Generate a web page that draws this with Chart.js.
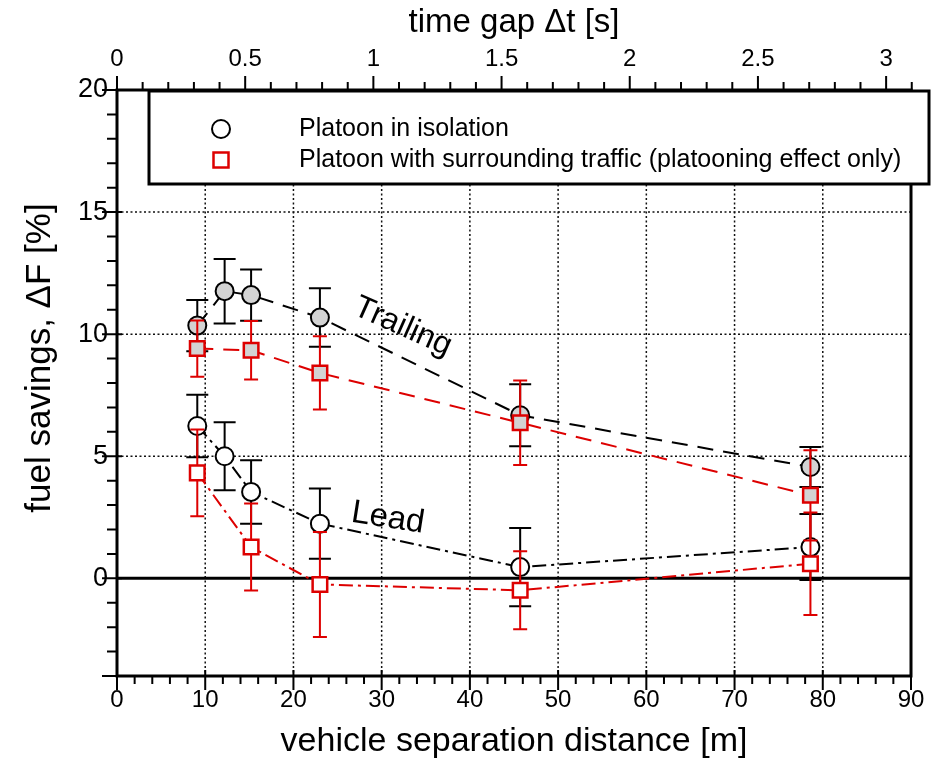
<!DOCTYPE html>
<html>
<head>
<meta charset="utf-8">
<script src="https://cdn.jsdelivr.net/npm/chart.js@4.4.0/dist/chart.umd.min.js"></script>
<style>
  body { margin: 0; background: #fff; }
  #wrap { width: 938px; height: 759px; }
</style>
</head>
<body>
<div id="wrap"><canvas id="fuel-chart"></canvas></div>
<script>
// platoon in isolation, measured at every separation distance
const distance = [9.1, 12.2, 15.2, 23.0, 45.7, 78.6];
const isoTrailing = [10.35, 11.76, 11.6, 10.68, 6.68, 4.56];
const isoTrailingErr = [1.05, 1.32, 1.05, 1.2, 1.27, 0.82];
const isoLead = [6.24, 5.0, 3.54, 2.24, 0.46, 1.28];
const isoLeadErr = [1.28, 1.39, 1.3, 1.44, 1.6, 1.35];

// platoon with surrounding traffic (no 12.2 m run)
const trafficDistance = [9.1, 15.2, 23.0, 45.7, 78.6];
const trafficTrailing = [9.41, 9.34, 8.41, 6.37, 3.4];
const trafficTrailingErr = [1.15, 1.2, 1.5, 1.73, 1.85];
const trafficLead = [4.32, 1.28, -0.25, -0.49, 0.6];
const trafficLeadErr = [1.78, 1.78, 2.15, 1.6, 2.1];

const distanceTicks = [0, 10, 20, 30, 40, 50, 60, 70, 80, 90];
const timeTicks = [0, 0.5, 1, 1.5, 2, 2.5, 3];
const savingsTicks = [0, 5, 10, 15, 20];
const speed = 29.06; // m/s, links the two x axes

const legendLabels = ['Platoon in isolation', 'Platoon with surrounding traffic (platooning effect only)'];
const FONT = "'Liberation Sans', Arial, Helvetica, sans-serif";
const RED = '#dd0000';
const GREY = '#d3d3d3';

function toPoints(xs, ys) {
    return xs.map((x, i) => ({ x: x, y: ys[i] }));
}

const extras = {
    id: 'extras',
    beforeDatasetsDraw(chart) {
        const { ctx, chartArea: a, scales: { x, y } } = chart;
        ctx.save();
        // dotted grid
        ctx.strokeStyle = '#111';
        ctx.lineWidth = 1.5;
        ctx.setLineDash([2, 2.5]);
        distanceTicks.forEach(v => {
            if (v <= 0 || v >= 90) return;
            const px = x.getPixelForValue(v);
            ctx.beginPath();
            ctx.moveTo(px, a.top);
            ctx.lineTo(px, a.bottom);
            ctx.stroke();
        });
        savingsTicks.forEach(v => {
            if (v <= 0 || v >= 20) return;
            const py = y.getPixelForValue(v);
            ctx.beginPath();
            ctx.moveTo(a.left, py);
            ctx.lineTo(a.right, py);
            ctx.stroke();
        });
        // zero line
        ctx.setLineDash([]);
        ctx.lineWidth = 3;
        ctx.strokeStyle = '#000';
        const y0 = y.getPixelForValue(0);
        ctx.beginPath();
        ctx.moveTo(a.left, y0);
        ctx.lineTo(a.right, y0);
        ctx.stroke();
        ctx.restore();
    },
    beforeDatasetDraw(chart, args) {
        const ds = chart.data.datasets[args.index];
        if (!ds.errors) return;
        const { ctx, scales: { x, y } } = chart;
        ctx.save();
        ctx.strokeStyle = ds.barColor;
        ctx.lineWidth = 2;
        ds.data.forEach((p, i) => {
            const px = x.getPixelForValue(p.x);
            const top = y.getPixelForValue(p.y + ds.errors[i]);
            const bot = y.getPixelForValue(p.y - ds.errors[i]);
            const w = ds.capWidth;
            ctx.beginPath();
            ctx.moveTo(px, top);
            ctx.lineTo(px, bot);
            ctx.moveTo(px - w, top);
            ctx.lineTo(px + w, top);
            ctx.moveTo(px - w, bot);
            ctx.lineTo(px + w, bot);
            ctx.stroke();
        });
        ctx.restore();
    },
    afterDatasetsDraw(chart) {
        const { ctx, chartArea: a, scales: { x, x2, y } } = chart;
        ctx.save();
        ctx.strokeStyle = '#000';
        ctx.lineWidth = 2;
        ctx.beginPath();
        // left axis ticks
        for (let v = -4; v <= 20; v++) {
            const py = y.getPixelForValue(v);
            const major = v % 5 === 0 || v === -4;
            ctx.moveTo(a.left - (major ? 15 : 10), py);
            ctx.lineTo(a.left + (major ? 5 : 0), py);
        }
        // bottom axis ticks
        for (let v = 0; v <= 90; v += 2) {
            const px = x.getPixelForValue(v);
            const major = v % 10 === 0;
            ctx.moveTo(px, a.bottom - (major ? 6 : 0));
            ctx.lineTo(px, a.bottom + (major ? 14 : 8));
        }
        // top axis ticks
        for (let k = 0; k <= 31; k++) {
            const px = x2.getPixelForValue(k / 10);
            const major = k % 5 === 0;
            ctx.moveTo(px, a.top + (major ? 5 : 0));
            ctx.lineTo(px, a.top - (major ? 14 : 8));
        }
        ctx.stroke();
        // frame
        ctx.lineWidth = 3;
        ctx.strokeRect(a.left, a.top, a.right - a.left, a.bottom - a.top);

        // curve labels
        ctx.fillStyle = '#000';
        ctx.textAlign = 'center';
        ctx.textBaseline = 'middle';
        [['Trailing', 32.4, 10.3, 24, 32], ['Lead', 30.7, 2.46, 9, 33]].forEach(l => {
            ctx.save();
            ctx.font = l[4] + 'px ' + FONT;
            ctx.translate(x.getPixelForValue(l[1]), y.getPixelForValue(l[2]));
            ctx.rotate(l[3] * Math.PI / 180);
            ctx.fillText(l[0], 0, 0);
            ctx.restore();
        });

        // axis titles
        const cx = (a.left + a.right) / 2;
        ctx.font = '33px ' + FONT;
        ctx.fillText('time gap \u0394t [s]', cx, 23);
        ctx.font = '34px ' + FONT;
        ctx.fillText('vehicle separation distance [m]', cx, 742);
        ctx.save();
        ctx.translate(40, 358);
        ctx.rotate(-Math.PI / 2);
        ctx.font = '35px ' + FONT;
        ctx.fillText('fuel savings, \u0394F [%]', 0, 0);
        ctx.restore();
        ctx.restore();
    },
    afterDraw(chart) {
        const { ctx } = chart;
        ctx.save();
        ctx.fillStyle = '#fff';
        ctx.fillRect(149, 91, 780, 93);
        ctx.strokeStyle = '#000';
        ctx.lineWidth = 3;
        ctx.strokeRect(149, 91, 780, 93);
        // markers
        ctx.lineWidth = 2;
        ctx.beginPath();
        ctx.arc(221, 129, 9, 0, Math.PI * 2);
        ctx.stroke();
        ctx.strokeStyle = RED;
        ctx.lineWidth = 2.5;
        ctx.strokeRect(213.5, 152.5, 15, 15);
        ctx.fillStyle = '#000';
        ctx.font = '25px ' + FONT;
        ctx.textAlign = 'left';
        ctx.textBaseline = 'middle';
        ctx.fillText(legendLabels[0], 299, 129);
        ctx.fillText(legendLabels[1], 299, 160);
        ctx.restore();
    }
};

const ctx = document.getElementById('fuel-chart').getContext('2d');
const chart = new Chart(ctx, {
    type: 'scatter',
    data: {
        datasets: [
            {
                label: 'Trailing, isolation',
                data: toPoints(distance, isoTrailing),
                errors: isoTrailingErr, barColor: '#000', capWidth: 11,
                showLine: true, borderColor: '#000', borderWidth: 2, borderDash: [16, 10],
                pointStyle: 'circle', pointRadius: 9, pointBorderWidth: 2,
                pointBorderColor: '#000', pointBackgroundColor: GREY, order: 4
            },
            {
                label: 'Lead, isolation',
                data: toPoints(distance, isoLead),
                errors: isoLeadErr, barColor: '#000', capWidth: 11,
                showLine: true, borderColor: '#000', borderWidth: 2, borderDash: [14, 5, 3, 5],
                pointStyle: 'circle', pointRadius: 9, pointBorderWidth: 2,
                pointBorderColor: '#000', pointBackgroundColor: '#fff', order: 3
            },
            {
                label: 'Trailing, traffic',
                data: toPoints(trafficDistance, trafficTrailing),
                errors: trafficTrailingErr, barColor: RED, capWidth: 7,
                showLine: true, borderColor: RED, borderWidth: 2, borderDash: [16, 10],
                pointStyle: 'rect', pointRadius: 10.3, pointBorderWidth: 2.5,
                pointBorderColor: RED, pointBackgroundColor: GREY, order: 2
            },
            {
                label: 'Lead, traffic',
                data: toPoints(trafficDistance, trafficLead),
                errors: trafficLeadErr, barColor: RED, capWidth: 7,
                showLine: true, borderColor: RED, borderWidth: 2, borderDash: [14, 5, 3, 5],
                pointStyle: 'rect', pointRadius: 10.3, pointBorderWidth: 2.5,
                pointBorderColor: RED, pointBackgroundColor: '#fff', order: 1
            }
        ]
    },
    options: {
        responsive: true,
        maintainAspectRatio: false,
        animation: false,
        events: [],
        layout: { padding: { left: 0, right: 27, top: 0, bottom: 0 } },
        plugins: {
            legend: { display: false },
            tooltip: { enabled: false }
        },
        scales: {
            x: {
                type: 'linear', position: 'bottom', min: 0, max: 90,
                grid: { display: false, drawTicks: false },
                border: { display: false },
                afterBuildTicks: s => { s.ticks = distanceTicks.map(v => ({ value: v })); },
                afterFit: s => { s.height = 83; },
                ticks: {
                    font: { family: FONT, size: 24 }, color: '#000', padding: 10,
                    maxRotation: 0, autoSkip: false, callback: v => String(v)
                }
            },
            x2: {
                type: 'linear', position: 'top', min: 0, max: 90 / speed,
                grid: { display: false, drawTicks: false },
                border: { display: false },
                afterBuildTicks: s => { s.ticks = timeTicks.map(v => ({ value: v })); },
                afterFit: s => { s.height = 90; },
                ticks: {
                    font: { family: FONT, size: 24 }, color: '#000', padding: 16,
                    maxRotation: 0, autoSkip: false, callback: v => String(v)
                }
            },
            y: {
                type: 'linear', position: 'left', min: -4, max: 20,
                grid: { display: false, drawTicks: false },
                border: { display: false },
                afterBuildTicks: s => { s.ticks = savingsTicks.map(v => ({ value: v })); },
                afterFit: s => { s.width = 117; },
                ticks: {
                    font: { family: FONT, size: 27 }, color: '#000', padding: 9,
                    callback: v => String(v)
                }
            }
        }
    },
    plugins: [extras]
});
</script>
</body>
</html>
